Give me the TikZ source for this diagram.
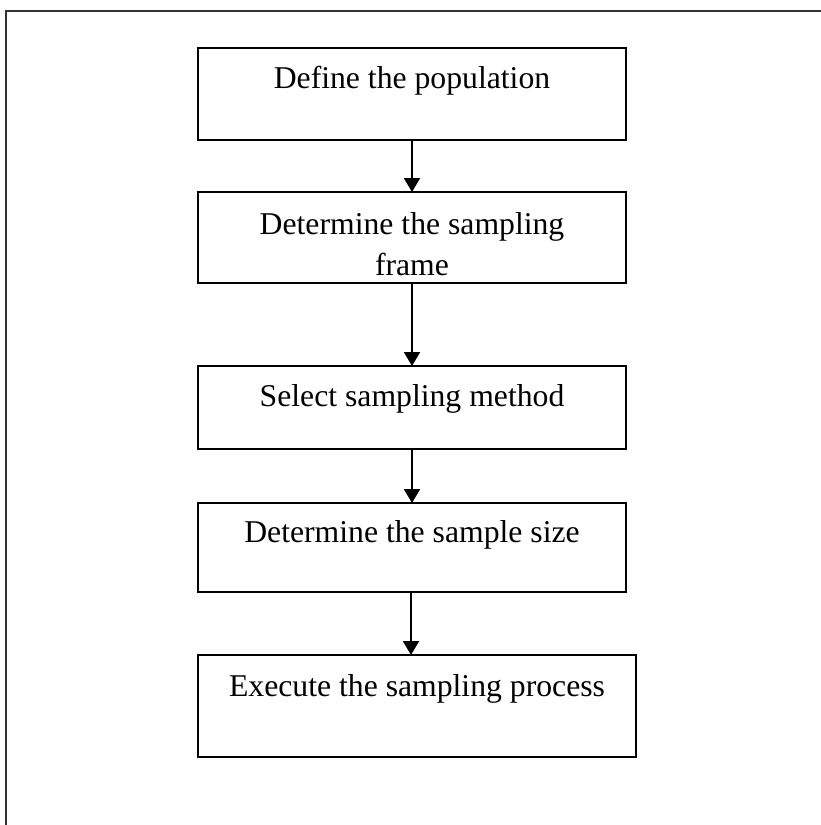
\documentclass[tikz,border=0pt]{standalone}
\usepackage{fontspec}
\setmainfont{Liberation Serif}
\usetikzlibrary{arrows.meta}
\begin{document}
\begin{tikzpicture}[x=1pt,y=-1pt,
  stepbox/.style={draw=black,line width=2pt,inner sep=0pt,outer sep=0pt,anchor=north west},
  steptext/.style={anchor=base,inner sep=0pt,align=center,font=\fontsize{31.7}{41}\selectfont},
  arr/.style={line width=2pt,-{Triangle[width=16pt,length=14pt]}},
  frameline/.style={draw=black!80,line width=1.5pt}]
\useasboundingbox (0,0) rectangle (820,825);
\fill[white] (0,0) rectangle (820,825);
\coordinate (fbl) at (6,826);
\coordinate (ftl) at (6,11);
\coordinate (ftr) at (821,11);
\draw[frameline] (fbl) -- (ftl) -- (ftr);
\node[stepbox,minimum width=428pt,minimum height=92pt] (b1) at (198,48) {};
\node[stepbox,minimum width=428pt,minimum height=91pt] (b2) at (198,192) {};
\node[stepbox,minimum width=428pt,minimum height=83pt] (b3) at (198,366) {};
\node[stepbox,minimum width=428pt,minimum height=89pt] (b4) at (198,503) {};
\node[stepbox,minimum width=438pt,minimum height=102pt] (b5) at (198,655) {};
\node[steptext] (t1) at (412,88) {Define the population};
\node[steptext] (t2a) at (412,234) {Determine the sampling};
\node[steptext] (t2b) at (412,275) {frame};
\node[steptext] (t3) at (412,406.5) {Select sampling method};
\node[steptext] (t4) at (412,542.5) {Determine the sample size};
\node[steptext] (t5) at (417,696) {Execute the sampling process};
\draw[arr] (b1.south) -- (b1.south |- b2.north);
\draw[arr] (b2.south) -- (b2.south |- b3.north);
\draw[arr] (b3.south) -- (b3.south |- b4.north);
\draw[arr] ([xshift=-1pt]b4.south) -- ([xshift=-1pt]b4.south |- b5.north);
\end{tikzpicture}
\end{document}
